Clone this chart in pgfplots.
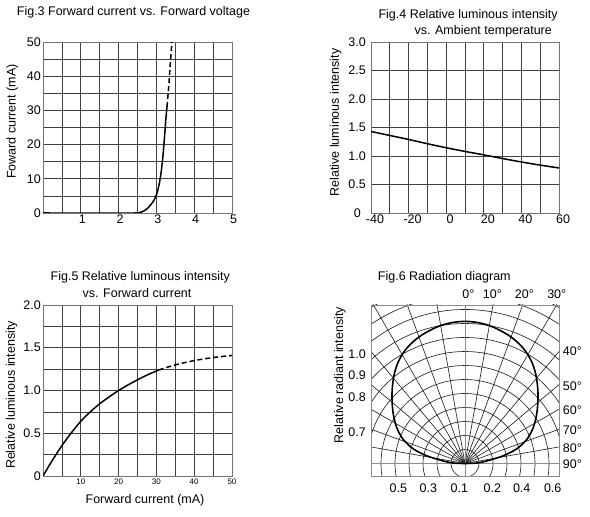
\documentclass[border=0pt]{standalone}
\usepackage{fontspec}
\setmainfont{Liberation Sans}
\usepackage{pgfplots}
\pgfplotsset{compat=1.18}
\begin{document}
\fontsize{12.5}{15}\selectfont
\begin{tikzpicture}[x=1pt,y=1pt]
\useasboundingbox (0,0) rectangle (590,517);
\pgfplotsset{
  panel/.style={
    scale only axis, width=189pt, height=171pt, anchor=south west,
    axis line style={black!55, line width=0.7pt},
    grid=both,
    major grid style={black!75, line width=0.7pt},
    minor grid style={black!75, line width=0.7pt},
    tick style={draw=none},
    major tick length=0pt, minor tick length=0pt,
    /pgf/number format/assume math mode=true,
    ticklabel style={font=\fontsize{12.5}{14}\selectfont},
    yticklabel style={inner sep=2pt},
    xticklabel style={inner sep=2pt},
  },
}

% ---------------- Fig.3 ----------------
\node[anchor=west, inner sep=0] at (16.7,504.7) {Fig.3 Forward current vs. Forward voltage};
\node[rotate=90, inner sep=0] at (12.3,395.3) {Foward current (mA)};
\begin{axis}[panel, at={(43pt,304pt)},
  xmin=0, xmax=5, ymin=0, ymax=50,
  xtick={1,2,3,4,5}, minor xtick={0.5,1.5,2.5,3.5,4.5},
  ytick={0,10,20,30,40,50}, minor ytick={5,15,25,35,45},
  xticklabel style={xshift=1.5pt}]
\addplot[black, line width=1.5pt, smooth, tension=0.5] coordinates {(0,0) (2.45,0) (2.55,0.1) (2.65,0.5) (2.75,1.2) (2.85,2.4) (2.95,4.0) (3.02,6.0) (3.08,8.8) (3.13,12.3) (3.18,17.5) (3.22,23.0) (3.25,27.5) (3.28,31)};
\addplot[black, line width=1.5pt, dash pattern=on 5pt off 3pt] coordinates {(3.28,31) (3.33,37.5) (3.37,44) (3.41,50)};
\end{axis}

% ---------------- Fig.4 ----------------
\node[anchor=west, inner sep=0] at (378.3,501.3) {Fig.4 Relative luminous intensity};
\node[anchor=west, inner sep=0] at (414.3,486) {vs. Ambient temperature};
\node[rotate=90, inner sep=0] at (335.7,394.5) {Relative luminous intensity};
\begin{axis}[panel, width=188pt, at={(371pt,304pt)},
  xmin=-40, xmax=60, ymin=0, ymax=3,
  xtick={-40,-20,0,20,40,60}, minor xtick={-30,-10,10,30,50},
  ytick={0,0.5,1,1.5,2,2.5,3}, yticklabels={0\kern5pt,0.5,1.0,1.5,2.0,2.5,3.0},
  yticklabel style={xshift=-3pt},
  xticklabel style={xshift=4pt}]
\addplot[black, line width=1.5pt, smooth] coordinates {(-40,1.43) (-30,1.36) (-20,1.29) (-10,1.215) (0,1.145) (10,1.08) (20,1.02) (30,0.955) (40,0.895) (50,0.84) (60,0.79)};
\end{axis}

% ---------------- Fig.5 ----------------
\node[inner sep=0] at (140.3,239.7) {Fig.5 Relative luminous intensity};
\node[inner sep=0] at (137,223.7) {vs. Forward current};
\node[rotate=90, inner sep=0] at (11.7,122) {Relative luminous intensity};
\node[inner sep=0] at (145,16.3) {Forward current (mA)};
\begin{axis}[panel, at={(43pt,41pt)},
  xmin=0, xmax=50, ymin=0, ymax=2,
  xtick={10,20,30,40,50}, minor xtick={5,15,25,35,45},
  ytick={0,0.5,1,1.5,2}, yticklabels={0,0.5,1.0,1.5,2.0},
  minor ytick={0.25,0.75,1.25,1.75},
  xticklabel style={font=\fontsize{8}{9}\selectfont, inner sep=3pt}]
\addplot[black, line width=1.5pt, smooth, tension=0.5] coordinates {(0,0) (1,0.075) (2.5,0.185) (5,0.355) (7.5,0.505) (10,0.64) (12.5,0.75) (15,0.845) (17.5,0.925) (20,1.0) (22.5,1.065) (25,1.125) (27.5,1.18) (30.6,1.24)};
\addplot[black, line width=1.5pt, smooth, dash pattern=on 5pt off 3pt] coordinates {(30.6,1.24) (35,1.30) (40,1.35) (45,1.385) (50,1.41)};
\end{axis}

% ---------------- Fig.6 ----------------
\node[inner sep=0] at (444.3,239.7) {Fig.6 Radiation diagram};
\node[rotate=90, inner sep=0] at (340,142) {Relative radiant intensity};
\begin{scope}
  \clip (371,41) rectangle (559,212);
  \foreach \k in {1,...,14} \draw[black!85, line width=0.65pt] (465,53.5) circle[radius={\k*14pt}];
  \foreach \a in {10,20,...,80} {
    \draw[black!85, line width=0.65pt] (465,53.5) -- ++(90-\a:260pt);
    \draw[black!85, line width=0.65pt] (465,53.5) -- ++(90+\a:260pt);
  }
  \draw[black!45, line width=0.7pt] (465,41) -- (465,212);
  \draw[black!45, line width=0.7pt] (371,53.5) -- (559,53.5);
\end{scope}
\begin{axis}[scale only axis, width=188pt, height=171pt, anchor=south west,
  at={(371pt,41pt)}, axis line style={black!45, line width=0.7pt},
  xmin=-0.6714, xmax=0.6714, ymin=-0.0893, ymax=1.1321,
  xtick=\empty, ytick=\empty]
\addplot[black, line width=1.6pt, smooth, tension=0.55] coordinates {
 (0,0) (0.09,0.004) (0.18,0.025) (0.28,0.058) (0.37,0.105) (0.44,0.17) (0.485,0.25)
 (0.51,0.34) (0.52,0.43) (0.52,0.53) (0.505,0.64) (0.47,0.74) (0.41,0.83) (0.32,0.91)
 (0.20,0.975) (0.10,1.005) (0,1.015)
 (-0.10,1.005) (-0.20,0.975) (-0.32,0.91) (-0.41,0.83) (-0.47,0.74) (-0.505,0.64)
 (-0.52,0.53) (-0.52,0.43) (-0.51,0.34) (-0.485,0.25) (-0.44,0.17) (-0.37,0.105)
 (-0.28,0.058) (-0.18,0.025) (-0.09,0.004) (0,0)};
\end{axis}
% angle labels
\node[inner sep=0] at (468.3,222.7) {0°};
\node[inner sep=0] at (492.3,222.7) {10°};
\node[inner sep=0] at (524.3,222.7) {20°};
\node[inner sep=0] at (556.7,222.7) {30°};
\node[anchor=west, inner sep=0] at (562.7,165.3) {40°};
\node[anchor=west, inner sep=0] at (562.7,131) {50°};
\node[anchor=west, inner sep=0] at (562.7,107) {60°};
\node[anchor=west, inner sep=0] at (562.7,87) {70°};
\node[anchor=west, inner sep=0] at (562.7,69.3) {80°};
\node[anchor=west, inner sep=0] at (562.7,53) {90°};
% intensity labels
\node[anchor=east, inner sep=0] at (366,162.7) {1.0};
\node[anchor=east, inner sep=0] at (366,142) {0.9};
\node[anchor=east, inner sep=0] at (366,120.3) {0.8};
\node[anchor=east, inner sep=0] at (366,85.3) {0.7};
\node[inner sep=0] at (398.3,28.7) {0.5};
\node[inner sep=0] at (428.3,28.7) {0.3};
\node[inner sep=0] at (459.3,28.7) {0.1};
\node[inner sep=0] at (492.3,28.7) {0.2};
\node[inner sep=0] at (521.7,28.7) {0.4};
\node[inner sep=0] at (552.7,28.7) {0.6};
\end{tikzpicture}
\end{document}
